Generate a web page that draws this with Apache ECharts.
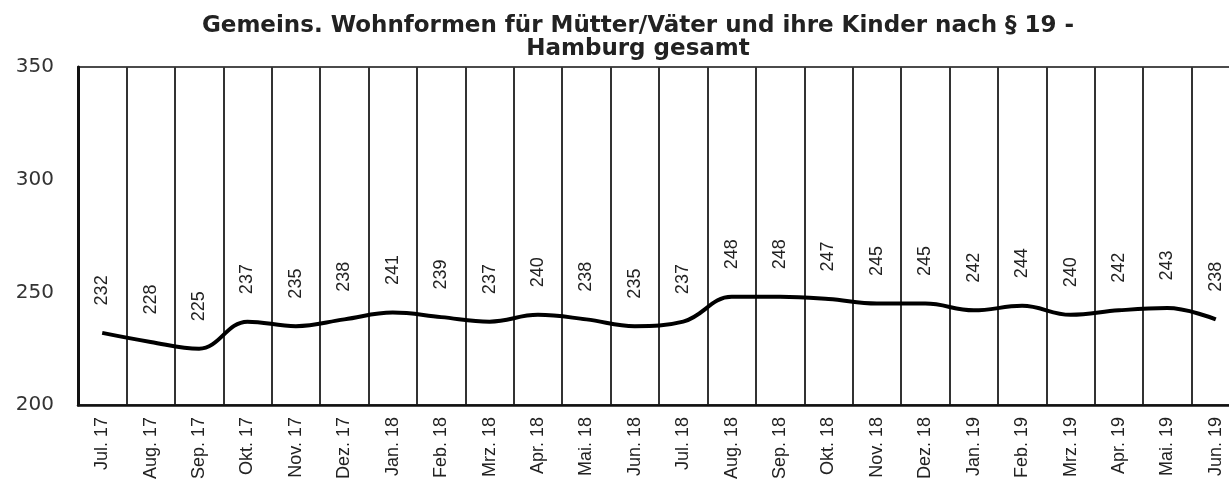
<!DOCTYPE html>
<html>
<head>
<meta charset="utf-8">
<script src="https://cdn.jsdelivr.net/npm/echarts@6/dist/echarts.min.js"></script>
<style>html,body{margin:0;padding:0;background:#fff;overflow:hidden;width:1229px;height:492px;}#c{width:1250px;height:492px;}</style>
</head>
<body>
<div id="c"></div>
<script>
const titleText = 'Gemeins. Wohnformen für Mütter/Väter und ihre Kinder nach § 19 -\nHamburg gesamt';
const categories = ['Jul. 17','Aug. 17','Sep. 17','Okt. 17','Nov. 17','Dez. 17','Jan. 18','Feb. 18','Mrz. 18','Apr. 18','Mai. 18','Jun. 18','Jul. 18','Aug. 18','Sep. 18','Okt. 18','Nov. 18','Dez. 18','Jan. 19','Feb. 19','Mrz. 19','Apr. 19','Mai. 19','Jun. 19'];
const values = [232,228,225,237,235,238,241,239,237,240,238,235,237,248,248,247,245,245,242,244,240,242,243,238];
const yMin = 200, yMax = 350, yStep = 50;

const chart = echarts.init(document.getElementById('c'));
chart.setOption({
  animation: false,
  backgroundColor: '#fff',
  title: {
    text: titleText,
    left: 633, top: 10, textAlign: 'center',
    textStyle: { fontFamily: 'DejaVu Sans', fontWeight: 'bold', fontSize: 23, lineHeight: 23, color: '#222' }
  },
  grid: { left: 78, width: 1162, top: 67, bottom: 87, show: true, borderColor: '#111', borderWidth: 1.5 },
  xAxis: {
    type: 'category', data: categories, boundaryGap: true,
    axisLine: { lineStyle: { color: '#111', width: 2.5 } },
    axisTick: { show: false },
    splitLine: { show: true, lineStyle: { color: '#333', width: 2 } },
    axisLabel: { rotate: 90, margin: 12, fontFamily: 'Liberation Sans', fontSize: 18, color: '#222', interval: 0 }
  },
  yAxis: {
    type: 'value', min: yMin, max: yMax, interval: yStep,
    axisLine: { show: true, lineStyle: { color: '#111', width: 3 } },
    axisTick: { show: false },
    splitLine: { show: false },
    axisLabel: { margin: 24, fontFamily: 'DejaVu Sans', fontSize: 20, color: '#333' }
  },
  series: [{
    type: 'line', data: values, smooth: 0.4,
    symbol: 'circle', symbolSize: 1, showSymbol: true, showAllSymbol: true,
    itemStyle: { color: 'rgba(0,0,0,0)' },
    lineStyle: { color: '#000', width: 4 },
    label: { show: true, position: 'top', distance: 27, rotate: 90, align: 'left', verticalAlign: 'middle',
      fontFamily: 'Liberation Sans', fontSize: 18, color: '#222' }
  }]
});
</script>
</body>
</html>
